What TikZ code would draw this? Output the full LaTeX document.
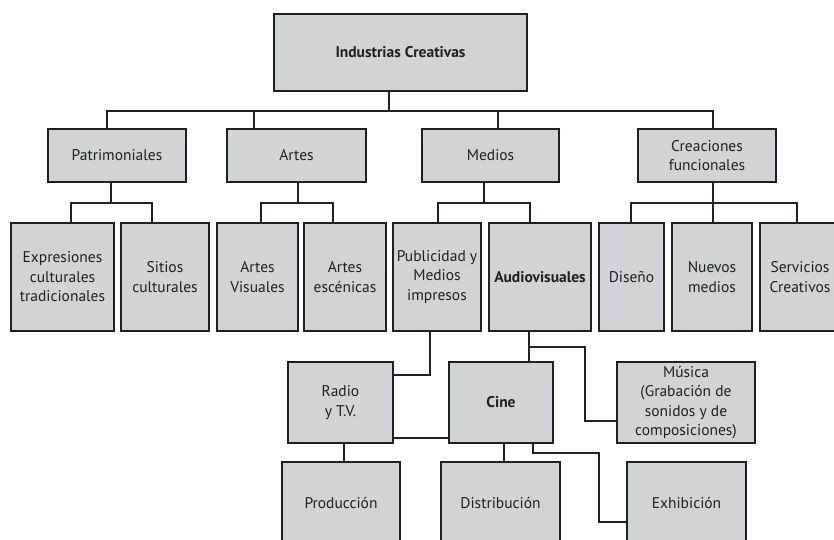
\documentclass[tikz,border=0pt]{standalone}
\usepackage{fontspec}
\setmainfont{PT Sans}
\usetikzlibrary{calc}
\definecolor{boxfill}{HTML}{D1D3D4}
\definecolor{ink}{HTML}{231F20}
\begin{document}
\begin{tikzpicture}[x=1pt,y=-1pt,
  box/.style={draw=ink, line width=2.8pt, fill=boxfill, anchor=north west,
    align=center, inner sep=0.5pt, outer sep=0pt, text=ink,
    font=\fontsize{15.5}{19.5}\selectfont},
  conn/.style={draw=ink, line width=2.4pt}]
\useasboundingbox (0,0) rectangle (834,539);
\clip (0,0) rectangle (834,539);
\fill[white] (0,0) rectangle (834,539);
% level 1
\node[box, minimum width=253pt, minimum height=77pt] (top) at (274,14) {\bfseries Industrias Creativas};
% level 2
\node[box, minimum width=138pt, minimum height=53pt] (patr) at (48,129) {Patrimoniales};
\node[box, minimum width=139pt, minimum height=53pt] (artes) at (227,129) {Artes};
\node[box, minimum width=137pt, minimum height=53pt] (medios) at (422,129) {Medios};
\node[box, minimum width=138pt, minimum height=53pt] (crea) at (638,129) {Creaciones\\funcionales};
% level 3
\node[box, minimum width=103pt, minimum height=108pt] (expr) at (11,223) {Expresiones\\culturales\\tradicionales};
\node[box, minimum width=88pt, minimum height=108pt] (sitios) at (121,223) {Sitios\\culturales};
\node[box, minimum width=81pt, minimum height=108pt] (avis) at (217,223) {Artes\\Visuales};
\node[box, minimum width=82pt, minimum height=108pt] (aesc) at (304,223) {Artes\\escénicas};
\node[box, minimum width=88pt, minimum height=108pt] (publ) at (393,223) {Publicidad y\\Medios\\impresos};
\node[box, minimum width=102pt, minimum height=108pt] (audio) at (489,223) {\bfseries Audiovisuales};
\node[box, minimum width=65pt, minimum height=108pt] (dis) at (599,223) {Diseño};
\node[box, minimum width=80pt, minimum height=108pt] (nuevos) at (672,223) {Nuevos\\medios};
\node[box, minimum width=80pt, minimum height=108pt] (serv) at (760,223) {Servicios\\Creativos};
% level 4
\node[box, minimum width=105pt, minimum height=81pt] (radio) at (288,362) {Radio\\y T.V.};
\node[box, minimum width=104pt, minimum height=81pt] (cine) at (449,362) {\bfseries Cine};
\node[box, minimum width=138pt, minimum height=81pt] (musica) at (617,362) {Música\\(Grabación de\\sonidos y de\\composiciones)};
% level 5
\node[box, minimum width=118pt, minimum height=82pt] (prod) at (282,462) {Producción};
\node[box, minimum width=119pt, minimum height=82pt] (dist) at (441,462) {Distribución};
\node[box, minimum width=119pt, minimum height=82pt] (exhib) at (627,462) {Exhibición};
% connectors level 1-2
\coordinate (b0) at (389,111);
\draw[conn] (b0 |- top.south) -- (b0);
\draw[conn] ($(patr.north)+(-10,0)$) |- (b0);
\draw[conn] ($(artes.north)+(-42.5,0)$) |- (b0);
\draw[conn] ($(medios.north)+(7.5,0)$) |- (b0);
\draw[conn] ($(crea.north)+(6,0)$) |- (b0);
% level 2-3
\coordinate (b1) at (111,203);
\draw[conn] (b1 |- patr.south) -- (b1);
\draw[conn] ($(expr.north)+(8.5,0)$) |- (b1);
\draw[conn] ($(sitios.north)+(-13,0)$) |- (b1);
\coordinate (b2) at (298,203);
\draw[conn] (b2 |- artes.south) -- (b2);
\draw[conn] ($(avis.north)+(3.5,0)$) |- (b2);
\draw[conn] ($(aesc.north)+(-12,0)$) |- (b2);
\coordinate (b3) at (484,203);
\draw[conn] (b3 |- medios.south) -- (b3);
\draw[conn] ($(publ.north)+(1,0)$) |- (b3);
\draw[conn] ($(audio.north)+(-10,0)$) |- (b3);
\coordinate (b4) at (713,203);
\draw[conn] (b4 |- crea.south) -- (b4 |- nuevos.north);
\draw[conn] ($(dis.north)+(-0.5,0)$) |- (b4);
\draw[conn] ($(serv.north)+(-3,0)$) |- (b4);
% level 3-4
\draw[conn] ($(publ.south)+(-7,0)$) |- ($(radio.east)+(0,-27.5)$);
\draw[conn] ($(audio.south)+(-11,0)$) -- ($(cine.north)+(28,0)$);
\coordinate (mb) at ($(audio.south)+(-11,16)$);
\coordinate (me) at ($(musica.west)+(0,18.5)$);
\draw[conn] (mb) -| ($(me)+(-32,0)$) -- (me);
\draw[conn] ($(radio.east)+(0,35.5)$) -- ($(cine.west)+(0,35.5)$);
% level 4-5
\draw[conn] ($(radio.south)+(3.5,0)$) -- ($(prod.north)+(3,0)$);
\draw[conn] ($(cine.south)+(3,0)$) -- ($(dist.north)+(3.5,0)$);
\coordinate (eb) at ($(cine.south)+(32,10)$);
\coordinate (ee) at ($(exhib.west)+(0,19)$);
\draw[conn] ($(cine.south)+(32,0)$) -- (eb) -| ($(ee)+(-28,0)$) -- (ee);
\end{tikzpicture}
\end{document}
